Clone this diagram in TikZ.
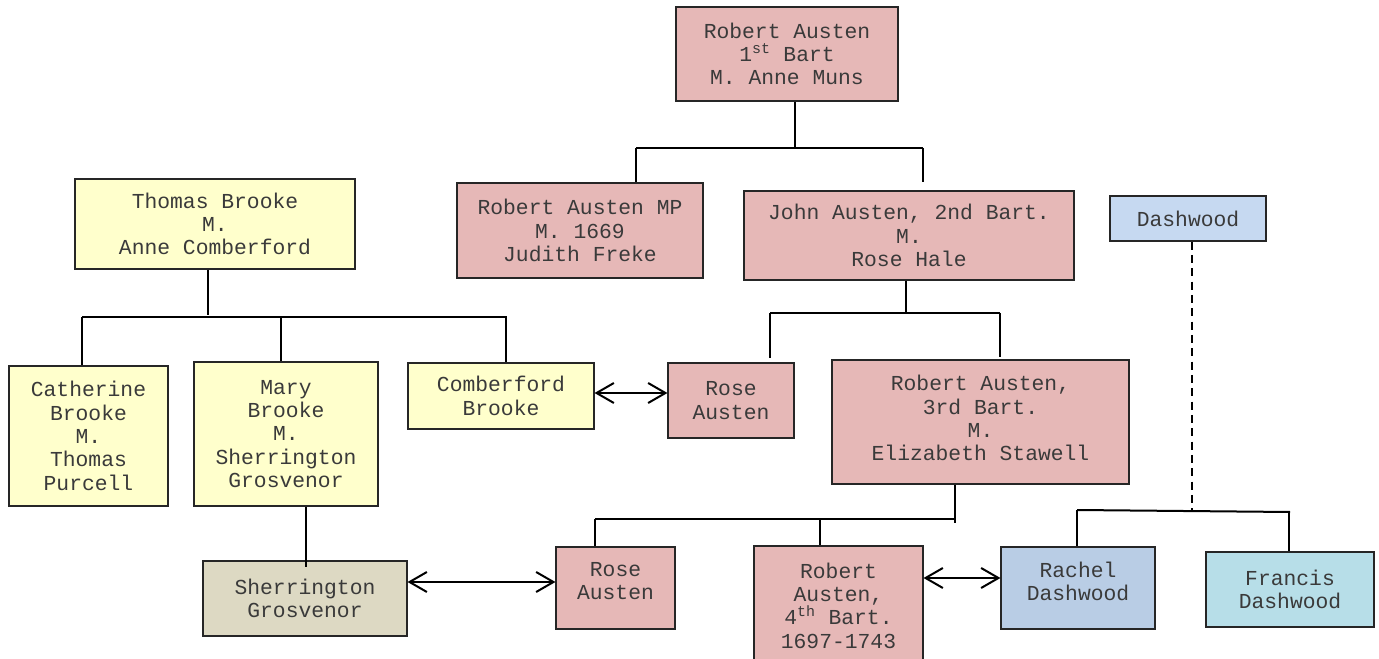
\documentclass[tikz,border=0pt]{standalone}
\usepackage{fontspec}
\setmainfont{Liberation Mono}
\usetikzlibrary{arrows.meta}
\definecolor{pinkbox}{HTML}{E6B8B7}
\definecolor{yelbox}{HTML}{FFFFCC}
\definecolor{tanbox}{HTML}{DDD9C3}
\definecolor{bluebox}{HTML}{B9CDE5}
\definecolor{lbluebox}{HTML}{B7DEE8}
\definecolor{dashbox}{HTML}{C6D9F1}
\definecolor{txt}{HTML}{3A3A3A}
\tikzset{
  box/.style={draw=black!85, line width=0.8pt, align=center, inner sep=0pt,
    text=txt, font=\fontsize{16pt}{17.5pt}\selectfont},
  wh/.style 2 args={minimum width=0.75*#1pt, minimum height=0.75*#2pt},
  pinkb/.style={box, fill=pinkbox},
  yelb/.style={box, fill=yelbox},
  tanb/.style={box, fill=tanbox},
  blueb/.style={box, fill=bluebox},
  lblueb/.style={box, fill=lbluebox},
  dashb/.style={box, fill=dashbox},
  conn/.style={line width=1.5pt, black},
  biarrow/.style={line width=1.5pt, black, {Straight Barb[length=13pt,width=15pt,line width=1.5pt]}-{Straight Barb[length=13pt,width=15pt,line width=1.5pt]}},
  dconn/.style={line width=1.3pt, black, dash pattern=on 6pt off 4pt}
}
\begin{document}
\begin{tikzpicture}[x=0.75pt,y=-0.75pt]
\useasboundingbox (0,0) rectangle (1379,659);
% nodes
\node[pinkb, wh={222}{94}] (ra1) at (787,54) {Robert Austen\\1\textsuperscript{st} Bart\\M. Anne Muns};
\node[pinkb, wh={246}{95}] (mp) at (580,230.5) {Robert Austen MP\\M. 1669\\Judith Freke};
\node[pinkb, wh={330}{89}] (ja) at (909,235.5) {John Austen, 2nd Bart.\\M.\\Rose Hale};
\node[dashb, wh={156}{45}] (dash) at (1188,218.5) {Dashwood};
\node[yelb, wh={280}{90}] (tb) at (215,224) {Thomas Brooke\\M.\\Anne Comberford};
\node[yelb, wh={159}{140}] (cb) at (88.5,436) {Catherine\\Brooke\\M.\\Thomas\\Purcell};
\node[yelb, wh={184}{144}] (mb) at (286,434) {Mary\\Brooke\\M.\\Sherrington\\Grosvenor};
\node[yelb, wh={186}{66}] (comb) at (501,396) {Comberford\\Brooke};
\node[pinkb, wh={126}{75}] (rose1) at (731,400.5) {Rose\\Austen};
\node[pinkb, wh={297}{124}] (ra3) at (980.5,422) {Robert Austen,\\3rd Bart.\\M.\\Elizabeth Stawell\\[-11.5pt]};
\node[pinkb, wh={119}{82}] (rose2) at (615.5,588) {Rose\\Austen\\[-7pt]};
\node[pinkb, wh={169}{119}] (ra4) at (838.5,605.5) {Robert\\Austen,\\4\textsuperscript{th} Bart.\\1697-1743};
\node[blueb, wh={154}{82}] (rachel) at (1078,588) {Rachel\\Dashwood\\[-7pt]};
\node[lblueb, wh={168}{75}] (francis) at (1290,589.5) {Francis\\Dashwood};
\node[tanb, wh={204}{75}] (sg) at (305,598.5) {Sherrington\\Grosvenor};
% coordinates
\coordinate (b1l) at (636,148);
\coordinate (b1r) at (923,148);
\coordinate (b1m) at (795,148);
\coordinate (b1re) at (923,182);
\coordinate (b2l) at (82,317);
\coordinate (b2r) at (507,317);
\coordinate (b2m) at (208,315);
\coordinate (b2c) at (281,317);
\coordinate (b2d) at (506,317);
\coordinate (b3l) at (770,313);
\coordinate (b3r) at (1000,313);
\coordinate (b3m) at (906,313);
\coordinate (b3le) at (770,358);
\coordinate (b3re) at (1000,357);
\coordinate (b4l) at (595,519);
\coordinate (b4m) at (820,519);
\coordinate (b4r) at (955,523);
\coordinate (b4e) at (955,519);
\coordinate (b5l) at (1077,510);
\coordinate (b5r) at (1290,512);
\coordinate (b5m) at (1192,511);
\coordinate (b5f) at (1289,512);
\coordinate (sge) at (306,567);
% tree connectors
\draw[conn] (ra1.south -| b1m) -- (b1m);
\draw[conn] (b1l) -- (b1r);
\draw[conn] (b1l) -- (b1l |- mp.north);
\draw[conn] (b1r) -- (b1re);
\draw[conn] (tb.south -| b2m) -- (b2m);
\draw[conn] (b2l) -- (b2r);
\draw[conn] (b2l) -- (b2l |- cb.north);
\draw[conn] (b2c) -- (b2c |- mb.north);
\draw[conn] (b2d) -- (b2d |- comb.north);
\draw[conn] (ja.south -| b3m) -- (b3m);
\draw[conn] (b3l) -- (b3r);
\draw[conn] (b3l) -- (b3le);
\draw[conn] (b3r) -- (b3re);
\draw[conn] (ra3.south -| b4r) -- (b4r);
\draw[conn] (b4l) -- (b4e);
\draw[conn] (b4l) -- (b4l |- rose2.north);
\draw[conn] (b4m) -- (b4m |- ra4.north);
\draw[conn] (mb.south -| sge) -- (sge);
\draw[dconn] (dash.south -| b5m) -- (b5m);
\draw[conn] (b5l) -- (b5r);
\draw[conn] (b5l) -- (b5l |- rachel.north);
\draw[conn] (b5f) -- (b5f |- francis.north);
% marriage arrows
\draw[biarrow] (comb.east |- 0,393) -- (rose1.west |- 0,393);
\draw[biarrow] (sg.east |- 0,582) -- (rose2.west |- 0,582);
\draw[biarrow] (ra4.east |- 0,578) -- (rachel.west |- 0,578);
\end{tikzpicture}
\end{document}
